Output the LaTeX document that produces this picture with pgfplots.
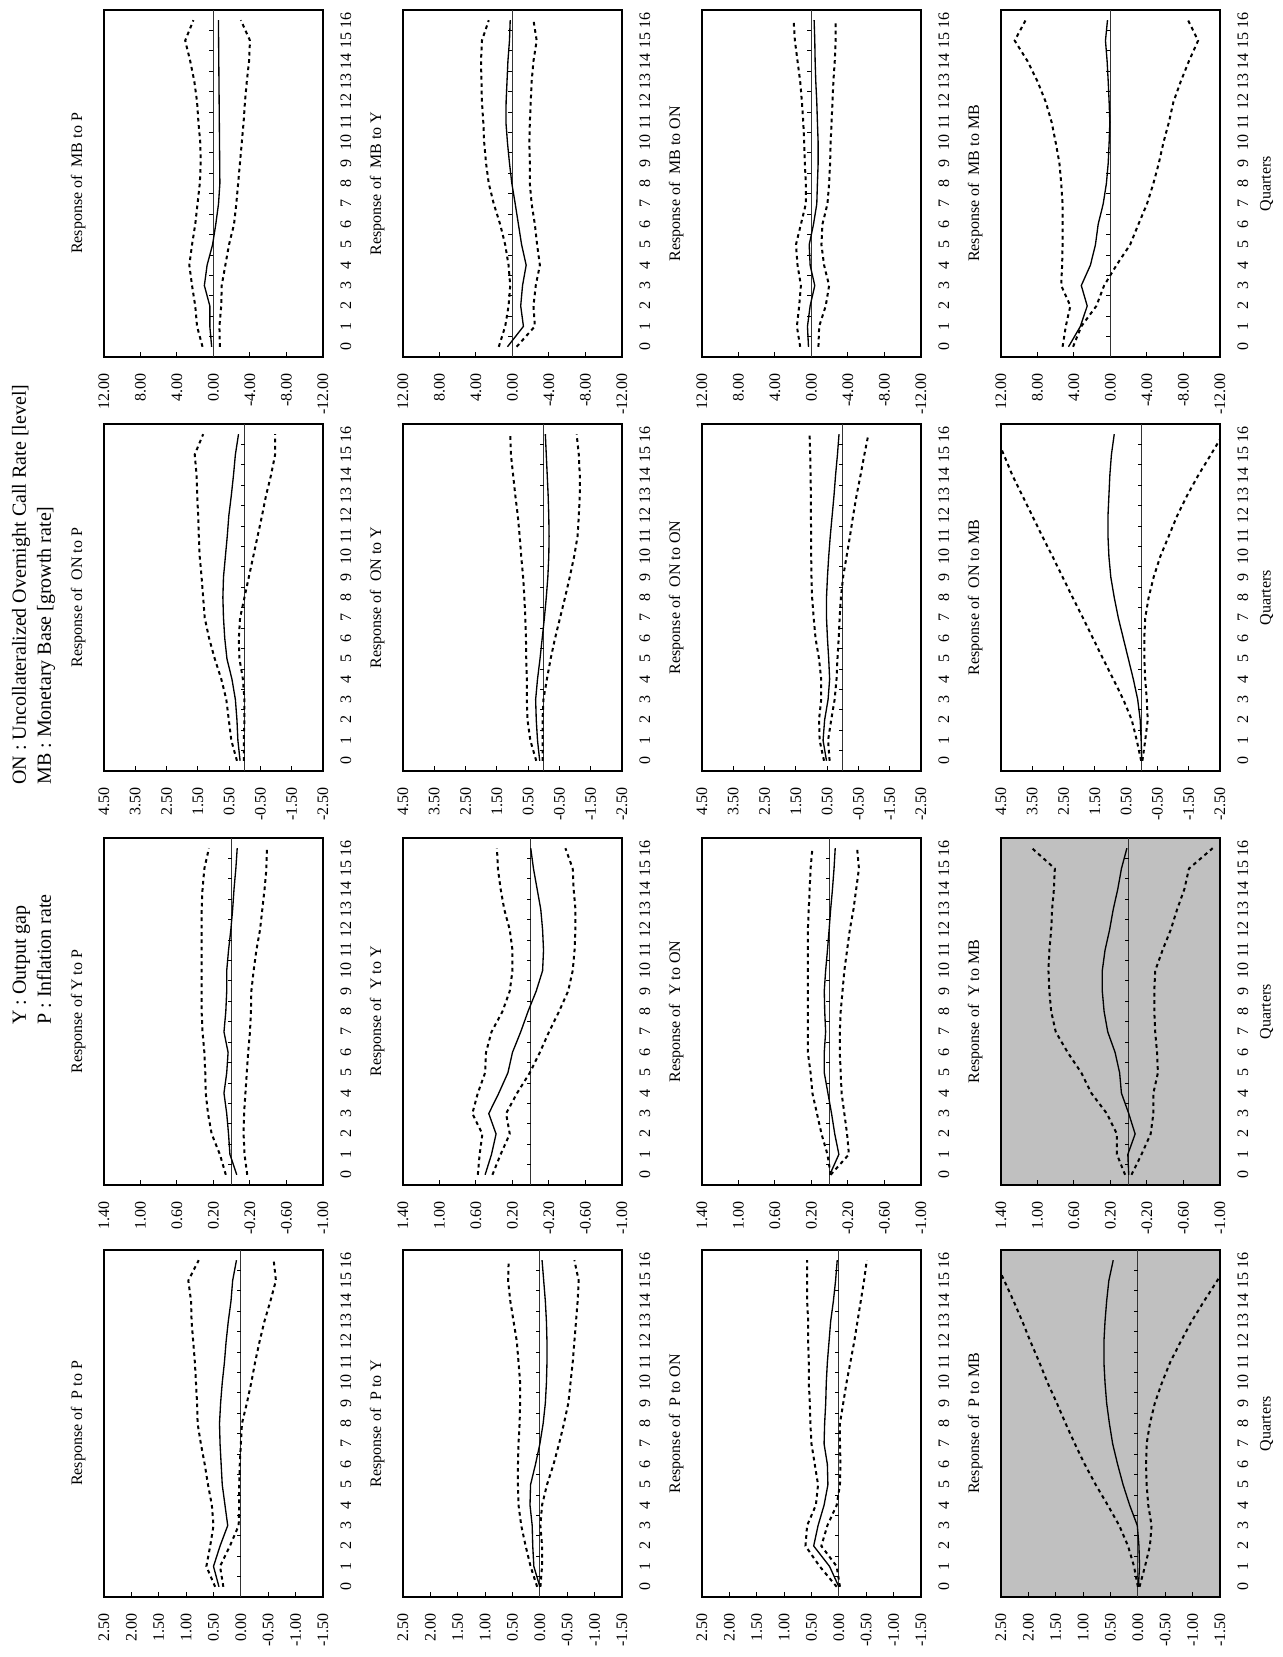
\documentclass[border=0pt]{standalone}
\usepackage{pgfplots}
\pgfplotsset{compat=1.18}
\usepackage{pgfplotstable}
\usepackage{fontspec}
\setmainfont{Liberation Serif}
\definecolor{shade}{RGB}{192,192,192}

% ---------- data: q = quarter, m = response, u = upper band, l = lower band
\pgfplotstableread{
q m u l
0 0.40 0.47 0.32
1 0.50 0.63 0.38
2 0.38 0.56 0.20
3 0.24 0.50 0.04
4 0.29 0.53 0.03
5 0.34 0.60 0.03
6 0.36 0.66 0.02
7 0.38 0.73 0.00
8 0.39 0.79 -0.02
9 0.37 0.80 -0.11
10 0.34 0.82 -0.19
11 0.30 0.84 -0.26
12 0.27 0.87 -0.34
13 0.23 0.90 -0.43
14 0.18 0.91 -0.54
15 0.15 0.96 -0.64
16 0.08 0.77 -0.60
}\tPP
\pgfplotstableread{
q m u l
0 -0.055 0.065 -0.17
1 0.02 0.13 -0.14
2 0.035 0.22 -0.13
3 0.055 0.26 -0.135
4 0.085 0.285 -0.15
5 0.055 0.29 -0.165
6 0.04 0.30 -0.18
7 0.085 0.32 -0.20
8 0.065 0.33 -0.21
9 0.055 0.33 -0.215
10 0.055 0.33 -0.24
11 0.035 0.33 -0.27
12 0.01 0.33 -0.31
13 -0.01 0.33 -0.335
14 -0.025 0.32 -0.36
15 -0.045 0.30 -0.38
16 -0.06 0.25 -0.385
}\tYP
\pgfplotstableread{
q m u l
0 0.15 0.25 0.03
1 0.22 0.43 0.03
2 0.25 0.51 0.01
3 0.30 0.59 0.01
4 0.41 0.75 0.06
5 0.57 0.96 0.17
6 0.64 1.14 0.19
7 0.68 1.28 0.15
8 0.70 1.33 0.01
9 0.68 1.38 -0.13
10 0.62 1.44 -0.27
11 0.56 1.47 -0.41
12 0.51 1.49 -0.55
13 0.43 1.52 -0.68
14 0.36 1.54 -0.84
15 0.30 1.60 -0.97
16 0.20 1.33 -0.97
}\tONP
\pgfplotstableread{
q m u l
0 0.2 1.2 -0.7
1 0.4 1.8 -0.65
2 0.4 2.0 -0.85
3 1.0 2.35 -0.9
4 0.7 2.65 -1.3
5 0.1 2.35 -1.7
6 -0.25 2.0 -2.25
7 -0.55 1.75 -2.5
8 -0.7 1.5 -2.7
9 -0.68 1.4 -2.9
10 -0.66 1.45 -3.1
11 -0.64 1.65 -3.3
12 -0.62 1.8 -3.45
13 -0.6 2.1 -3.65
14 -0.58 2.55 -3.9
15 -0.56 3.1 -4.0
16 -0.55 2.2 -3.0
}\tMBP
\pgfplotstableread{
q m u l
0 0.0 0.05 -0.01
1 0.11 0.17 -0.04
2 0.13 0.26 -0.04
3 0.14 0.34 -0.01
4 0.18 0.39 -0.04
5 0.17 0.40 -0.13
6 0.08 0.40 -0.25
7 0.0 0.39 -0.35
8 -0.06 0.37 -0.44
9 -0.10 0.36 -0.52
10 -0.12 0.36 -0.56
11 -0.13 0.39 -0.60
12 -0.13 0.42 -0.63
13 -0.12 0.48 -0.66
14 -0.10 0.54 -0.69
15 -0.07 0.58 -0.71
16 -0.04 0.57 -0.63
}\tPY
\pgfplotstableread{
q m u l
0 0.50 0.58 0.42
1 0.43 0.56 0.33
2 0.38 0.53 0.23
3 0.46 0.64 0.27
4 0.35 0.58 0.15
5 0.25 0.50 0.01
6 0.20 0.49 -0.10
7 0.11 0.43 -0.20
8 0.03 0.31 -0.31
9 -0.06 0.23 -0.41
10 -0.13 0.20 -0.46
11 -0.14 0.20 -0.48
12 -0.13 0.23 -0.49
13 -0.11 0.29 -0.49
14 -0.07 0.33 -0.47
15 -0.03 0.36 -0.46
16 0.0 0.37 -0.38
}\tYY
\pgfplotstableread{
q m u l
0 0.13 0.24 0.04
1 0.20 0.43 0.04
2 0.24 0.52 0.04
3 0.26 0.54 0.01
4 0.20 0.54 -0.10
5 0.12 0.56 -0.22
6 0.05 0.57 -0.36
7 -0.02 0.59 -0.52
8 -0.08 0.62 -0.68
9 -0.13 0.66 -0.83
10 -0.16 0.72 -0.97
11 -0.17 0.77 -1.08
12 -0.16 0.83 -1.12
13 -0.14 0.91 -1.15
14 -0.11 0.98 -1.15
15 -0.08 1.05 -1.12
16 -0.05 1.07 -1.05
}\tONY
\pgfplotstableread{
q m u l
0 0.55 1.5 -0.45
1 -1.2 0.8 -2.45
2 -0.9 0.43 -2.3
3 -1.1 0.25 -2.55
4 -1.5 0.43 -3.0
5 -1.0 0.8 -2.7
6 -0.65 1.35 -2.45
7 -0.3 2.05 -2.1
8 0.07 2.6 -1.9
9 0.33 2.9 -1.9
10 0.55 3.1 -1.85
11 0.72 3.2 -1.9
12 0.7 3.35 -2.0
13 0.6 3.4 -2.1
14 0.5 3.45 -2.3
15 0.33 3.35 -2.65
16 0.25 2.6 -2.3
}\tMBY
\pgfplotstableread{
q m u l
0 0.0 0.04 -0.02
1 0.17 0.35 0.04
2 0.46 0.61 0.32
3 0.38 0.58 0.21
4 0.27 0.42 0.04
5 0.20 0.38 -0.02
6 0.21 0.44 -0.03
7 0.27 0.50 -0.02
8 0.26 0.52 -0.02
9 0.24 0.53 -0.08
10 0.23 0.55 -0.14
11 0.21 0.55 -0.21
12 0.18 0.56 -0.28
13 0.15 0.56 -0.34
14 0.10 0.58 -0.40
15 0.06 0.58 -0.46
16 0.03 0.58 -0.51
}\tPON
\pgfplotstableread{
q m u l
0 0.0 -0.01 -0.01
1 -0.10 0.025 -0.21
2 -0.055 0.09 -0.19
3 -0.02 0.14 -0.16
4 0.02 0.19 -0.13
5 0.06 0.21 -0.12
6 0.06 0.24 -0.11
7 0.045 0.24 -0.11
8 0.055 0.24 -0.12
9 0.06 0.24 -0.14
10 0.045 0.24 -0.16
11 0.025 0.24 -0.19
12 0.007 0.24 -0.22
13 -0.01 0.23 -0.26
14 -0.03 0.22 -0.29
15 -0.047 0.21 -0.32
16 -0.06 0.19 -0.30
}\tYON
\pgfplotstableread{
q m u l
0 0.52 0.60 0.42
1 0.63 0.74 0.47
2 0.58 0.76 0.37
3 0.47 0.69 0.26
4 0.42 0.69 0.20
5 0.45 0.76 0.17
6 0.49 0.87 0.13
7 0.52 0.93 0.10
8 0.52 0.98 0.06
9 0.49 1.00 -0.01
10 0.45 1.01 -0.12
11 0.40 1.01 -0.23
12 0.34 1.02 -0.33
13 0.28 1.02 -0.44
14 0.23 1.03 -0.57
15 0.17 1.04 -0.69
16 0.12 1.06 -0.82
}\tONON
\pgfplotstableread{
q m u l
0 0.33 1.24 -0.76
1 0.44 1.6 -0.84
2 0.15 1.35 -1.56
3 -0.36 1.16 -1.93
4 0.15 1.53 -1.38
5 0.25 1.7 -1.09
6 -0.22 1.16 -1.2
7 -0.58 0.62 -1.75
8 -0.65 0.62 -1.93
9 -0.73 0.73 -2.04
10 -0.73 0.8 -2.1
11 -0.65 0.9 -2.2
12 -0.58 1.05 -2.3
13 -0.47 1.24 -2.4
14 -0.4 1.53 -2.55
15 -0.36 1.82 -2.65
16 -0.29 1.96 -2.65
}\tMBON
\pgfplotstableread{
q m u l
0 -0.01 0.0 -0.03
1 -0.03 0.07 -0.13
2 -0.02 0.18 -0.22
3 0.01 0.34 -0.25
4 0.15 0.55 -0.19
5 0.27 0.77 -0.16
6 0.37 0.97 -0.15
7 0.46 1.15 -0.16
8 0.52 1.32 -0.22
9 0.57 1.48 -0.31
10 0.60 1.65 -0.44
11 0.62 1.80 -0.59
12 0.62 1.96 -0.78
13 0.60 2.11 -0.98
14 0.57 2.27 -1.21
15 0.53 2.44 -1.45
16 0.45 2.62 -1.68
}\tPMB
\pgfplotstableread{
q m u l
0 0.0 0.04 -0.03
1 0.01 0.13 -0.14
2 -0.07 0.13 -0.24
3 0.0 0.24 -0.27
4 0.08 0.41 -0.27
5 0.10 0.52 -0.32
6 0.15 0.67 -0.31
7 0.23 0.80 -0.29
8 0.27 0.85 -0.28
9 0.29 0.87 -0.28
10 0.29 0.88 -0.29
11 0.26 0.87 -0.37
12 0.21 0.85 -0.46
13 0.17 0.84 -0.53
14 0.12 0.82 -0.61
15 0.08 0.81 -0.66
16 0.02 1.06 -0.92
}\tYMB
\pgfplotstableread{
q m u l
0 0.0 0.02 -0.02
1 0.02 0.16 -0.11
2 0.05 0.32 -0.19
3 0.13 0.59 -0.16
4 0.27 0.91 -0.11
5 0.43 1.24 -0.08
6 0.59 1.56 -0.08
7 0.75 1.88 -0.11
8 0.88 2.21 -0.22
9 0.99 2.53 -0.38
10 1.05 2.85 -0.59
11 1.08 3.18 -0.86
12 1.08 3.50 -1.13
13 1.05 3.82 -1.45
14 1.02 4.14 -1.81
15 0.97 4.41 -2.21
16 0.88 4.70 -2.60
}\tONMB
\pgfplotstableread{
q m u l
0 4.6 5.25 4.1
1 3.3 4.9 3.2
2 2.55 4.4 1.55
3 3.2 5.4 0.7
4 2.2 5.3 -0.66
5 1.65 5.25 -2.15
6 1.35 5.25 -3.06
7 0.8 5.25 -4.0
8 0.45 5.4 -4.7
9 0.25 5.6 -5.3
10 0.15 6.0 -5.8
11 0.07 6.45 -6.4
12 0.15 7.1 -6.9
13 0.25 8.0 -7.7
14 0.37 9.1 -8.6
15 0.55 10.5 -9.6
16 0.33 9.3 -8.5
}\tMBMB

\pgfplotsset{
  irf/.style={
    scale only axis, width=208.2pt, height=131.4pt,
    anchor=south west,
    xmin=-0.5, xmax=16.5,
    xtick={0,1,...,16},
    x tick style={draw=none},
    xticklabel style={yshift=-7pt},
    ytick pos=left, tick align=inside, major tick length=3pt,
    y tick style={black, line width=0.6pt},
    axis line style={black, line width=1.1pt},
    tick label style={font=\fontsize{9.6}{11}\selectfont},
    /pgf/number format/assume math mode=true,
    yticklabel style={/pgf/number format/fixed, /pgf/number format/fixed zerofill,
      /pgf/number format/precision=2, xshift=-6.4pt},
    title style={font=\fontsize{9.6}{11}\selectfont, yshift=1.5pt},
    xlabel style={font=\fontsize{9.6}{11}\selectfont, at={(axis description cs:0.5,0)},
      anchor=center, yshift=-28pt},
  },
  Pcol/.style={ymin=-1.5, ymax=2.5, ytick={-1.5,-1,-0.5,0,0.5,1,1.5,2,2.5}},
  Ycol/.style={ymin=-1, ymax=1.4, ytick={-1,-0.6,-0.2,0.2,0.6,1,1.4}},
  ONcol/.style={ymin=-2.5, ymax=4.5, ytick={-2.5,-1.5,-0.5,0.5,1.5,2.5,3.5,4.5}},
  MBcol/.style={ymin=-12, ymax=12, ytick={-12,-8,-4,0,4,8,12}},
  shaded/.style={axis background/.style={fill=shade}},
  band/.style={black, line width=1.2pt, dash pattern=on 2.2pt off 2.2pt},
  med/.style={black, line width=0.8pt},
}

\newcommand{\panel}[5]{%
  \begin{axis}[irf, #3, at={(#1,#2)}, title={#5}]
    \draw[black!80, line width=0.5pt] (axis cs:-0.5,0) -- (axis cs:16.5,0);
    \pgfplotsinvokeforeach{0.5,1.5,2.5,3.5,4.5,5.5,6.5,7.5,8.5,9.5,10.5,11.5,12.5,13.5,14.5,15.5}{%
      \draw[black, line width=0.5pt] (axis cs:##1,0) -- ([yshift=2.5pt]axis cs:##1,0);}
    \addplot[med] table[x=q, y=m] {#4};
    \addplot[band] table[x=q, y=u] {#4};
    \addplot[band] table[x=q, y=l] {#4};
  \end{axis}}

\begin{document}
\begin{tikzpicture}[rotate=90, transform shape]
\useasboundingbox (0,0) rectangle (994.2pt,769.2pt);
\begin{scope}[font=\fontsize{12}{14}\selectfont]
\node[anchor=base west, inner sep=0pt] at (379.2pt,753.6pt) {Y : Output gap};
\node[anchor=base west, inner sep=0pt] at (379.2pt,738.6pt) {P : Inflation rate};
\node[anchor=base west, inner sep=0pt] at (523.2pt,753.6pt) {ON : Uncollateralized Overnight Call Rate [level]};
\node[anchor=base west, inner sep=0pt] at (523.2pt,738.6pt) {MB : Monetary Base [growth rate]};
\end{scope}
% row 1: shock P
\panel{36pt}{575.4pt}{Pcol}{\tPP}{Response of\ \ P to P}
\panel{283.2pt}{575.4pt}{Ycol}{\tYP}{Response of Y to P}
\panel{531.6pt}{575.4pt}{ONcol}{\tONP}{Response of\ \ ON to P}
\panel{780pt}{575.4pt}{MBcol}{\tMBP}{Response of\ \ MB to P}
% row 2: shock Y
\panel{36pt}{396pt}{Pcol}{\tPY}{Response of\ \ P to Y}
\panel{283.2pt}{396pt}{Ycol}{\tYY}{Response of\ \ Y to Y}
\panel{531.6pt}{396pt}{ONcol}{\tONY}{Response of\ \ ON to Y}
\panel{780pt}{396pt}{MBcol}{\tMBY}{Response of\ \ MB to Y}
% row 3: shock ON
\panel{36pt}{216.6pt}{Pcol}{\tPON}{Response of\ \ P to ON}
\panel{283.2pt}{216.6pt}{Ycol}{\tYON}{Response of\ \ Y to ON}
\panel{531.6pt}{216.6pt}{ONcol}{\tONON}{Response of\ \ ON to ON}
\panel{780pt}{216.6pt}{MBcol}{\tMBON}{Response of\ \ MB to ON}
% row 4: shock MB
\panel{36pt}{37.2pt}{Pcol, shaded, xlabel=Quarters}{\tPMB}{Response of\ \ P to MB}
\panel{283.2pt}{37.2pt}{Ycol, shaded, xlabel=Quarters}{\tYMB}{Response of\ \ Y to MB}
\panel{531.6pt}{37.2pt}{ONcol, xlabel=Quarters}{\tONMB}{Response of\ \ ON to MB}
\panel{780pt}{37.2pt}{MBcol, xlabel=Quarters}{\tMBMB}{Response of\ \ MB to MB}
\end{tikzpicture}
\end{document}
